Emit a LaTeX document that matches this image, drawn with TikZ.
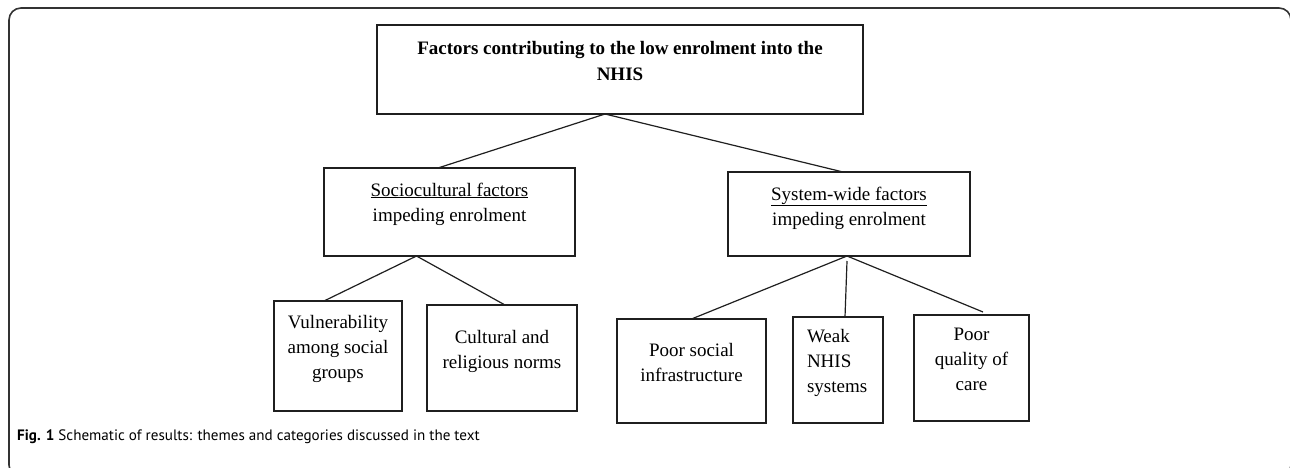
\documentclass[tikz,border=0pt]{standalone}
\usepackage{fontspec}
\setmainfont{Liberation Serif}
\newfontfamily\capfont{PT Sans}
\newcommand{\bxtext}[4]{\parbox[t][#2][t]{#1}{#4}}
\tikzset{
  box/.style={draw=black!88, line width=1.4pt, inner sep=0pt, outer sep=0pt, anchor=north west,
    font=\fontsize{19}{25}\selectfont},
  link/.style={draw=black!88, line width=1.2pt},
  frame/.style={draw=black!80, line width=1.6pt, rounded corners=12pt}
}
\begin{document}
\begin{tikzpicture}[x=1pt,y=-1pt]
\useasboundingbox (0,0) rectangle (1290,468);
\fill[white] (0,0) rectangle (1290,468);
\begin{scope}
  \clip (0,0) rectangle (1290,468);
  \draw[frame] (9,8) rectangle (1291,477);
\end{scope}

% top box
\node[box] (top) at (377,25) {\bxtext{486pt}{89pt}{}{\centering\bfseries\rule{0pt}{30pt}Factors contributing to the low enrolment into the\\[1pt]NHIS}};

% level 2
\node[box] (soc) at (324,168) {\bxtext{251pt}{88pt}{}{\centering\rule{0pt}{28pt}\underline{Sociocultural factors}\\impeding enrolment}};
\node[box] (sys) at (728,172) {\bxtext{242pt}{84pt}{}{\centering\rule{0pt}{28pt}\underline{System-wide factors}\\impeding enrolment}};

% level 3
\node[box] (vul) at (274,301) {\bxtext{128pt}{110pt}{}{\centering\rule{0pt}{27pt}Vulnerability\\among social\\groups}};
\node[box] (cul) at (427,305) {\bxtext{150pt}{106pt}{}{\centering\rule{0pt}{38pt}Cultural and\\religious norms}};
\node[box] (psi) at (617,319) {\bxtext{149pt}{104pt}{}{\centering\rule{0pt}{37pt}Poor social\\infrastructure}};
\node[box] (wns) at (793,317) {\bxtext{90pt}{106pt}{}{\raggedright\leftskip=14pt\relax\rule{0pt}{25pt}Weak\\NHIS\\systems}};
\node[box] (pqc) at (914,315) {\bxtext{115pt}{106pt}{}{\centering\rule{0pt}{25pt}Poor\\quality of\\care}};

% connectors
\draw[link] ([xshift=-15pt]top.south) -- ([xshift=-11.5pt]soc.north);
\draw[link] ([xshift=-15pt]top.south) -- ([xshift=-6pt]sys.north);
\draw[link] ([xshift=-33pt]soc.south) -- ([xshift=-14pt]vul.north);
\draw[link] ([xshift=-33pt]soc.south) -- ([xshift=3pt]cul.north);
\draw[link] ([xshift=-2pt]sys.south) -- (psi.north);
\draw[link] ([xshift=-2pt,yshift=-5pt]sys.south) -- ([xshift=7pt]wns.north);
\draw[link] ([xshift=-2pt]sys.south) -- ([xshift=11.5pt,yshift=3pt]pqc.north);

% caption
\node[anchor=base west, inner sep=0pt, font=\capfont\fontsize{15.1}{19}\selectfont] (cap) at (17,440)
  {\textbf{Fig. 1} Schematic of results: themes and categories discussed in the text};
\end{tikzpicture}
\end{document}
